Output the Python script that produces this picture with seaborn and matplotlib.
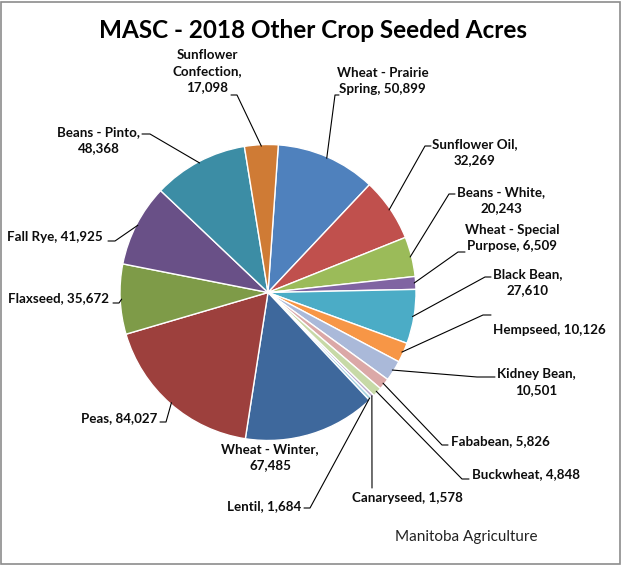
import matplotlib
matplotlib.use("Agg")
import matplotlib.pyplot as plt
import matplotlib.patches as mpatches
import numpy as np
import seaborn as sns

# ---- data ----
categories = ["Wheat - Prairie Spring", "Sunflower Oil", "Beans - White",
              "Wheat - Special Purpose", "Black Bean", "Hempseed", "Kidney Bean",
              "Fababean", "Buckwheat", "Canaryseed", "Lentil", "Wheat - Winter",
              "Peas", "Flaxseed", "Fall Rye", "Beans - Pinto", "Sunflower Confection"]
acres = [50899, 32269, 20243, 6509, 27610, 10126, 10501, 5826, 4848, 1578,
         1684, 67485, 84027, 35672, 41925, 48368, 17098]
title = "MASC - 2018 Other Crop Seeded Acres"
source = "Manitoba Agriculture"

# ---- style ----
colors = ["#4F81BD", "#C0504D", "#9BBB59", "#8064A2", "#4BACC6", "#F79646",
          "#AAB9D9", "#DBA8A7", "#C7D9A7", "#B9AACC", "#A6D2E0", "#3E689C",
          "#9D403D", "#7E9B48", "#695087", "#3C8DA5", "#CF7B35"]

# label layout in pixel coords: (words before line breaks, x, y, ha, leader path)
layout = [
    ([3], 337, 81, "left", [(335, 95), (339, 95)]),
    ([2], 432, 152, "left", [(425, 146), (431, 146)]),
    ([3], 457, 200, "left", [(449, 194), (455, 194)]),
    ([3], 465, 238, "left", [(458, 252), (465, 252)]),
    ([2], 493, 282, "left", [(485, 277), (491, 277)]),
    ([], 493, 330, "left", [(483, 315), (491, 315)]),
    ([2], 497, 382, "left", [(477, 377), (495, 377)]),
    ([], 451, 441, "left", [(442, 445), (448, 445)]),
    ([], 472, 474, "left", [(462, 479), (469, 479)]),
    ([], 407, 498, "center", [(372, 488)]),
    ([], 301, 506, "right", [(310, 508), (304, 508)]),
    ([3], 270, 457, "center", None),
    ([], 157, 418, "right", [(166, 422), (160, 422)]),
    ([], 109, 298, "right", [(119, 303), (113, 303)]),
    ([], 103, 237, "right", [(115, 241), (108, 241)]),
    ([3], 140, 140, "right", [(150, 134), (142, 134)]),
    ([1, 2], 207.5, 71, "center", [(237, 95), (231, 95)]),
]

W, H = 621, 565
CX, CY, R = 268, 292.5, 148

sns.set_theme(style="white")
plt.rcParams["font.family"] = ["Lato", "DejaVu Sans"]

fig = plt.figure(figsize=(W / 100, H / 100), dpi=100)
fig.patch.set_facecolor("white")
ax = fig.add_axes([(CX - R) / W, (H - CY - R) / H, 2 * R / W, 2 * R / H])

palette = sns.color_palette(colors)
wedges, _ = ax.pie(acres, colors=palette, startangle=86, counterclock=False,
                   radius=1, wedgeprops=dict(edgecolor="white", linewidth=1.0))
ax.set_xlim(-1, 1)
ax.set_ylim(-1, 1)
ax.set_axis_off()


def px(x, y):
    return (x - CX) / R, (CY - y) / R


for w, name, v, (brk, x, y, ha, path) in zip(wedges, categories, acres, layout):
    words = f"{name}, {v:,}".split(" ")
    lines, cur = [], []
    for i, wd in enumerate(words, start=1):
        cur.append(wd)
        if i in brk:
            lines.append(" ".join(cur))
            cur = []
    lines.append(" ".join(cur))
    text = "\n".join(lines)
    tx, ty = px(x, y)
    ax.text(tx, ty, text, ha=ha, va="center", multialignment="center",
            fontsize=9.6, fontweight="bold", color="#0d0d0d", linespacing=1.4,
            clip_on=False)
    if path:
        mid = np.deg2rad((w.theta1 + w.theta2) / 2)
        ax_, ay_ = np.cos(mid) * 0.99, np.sin(mid) * 0.99
        xs = [ax_] + [px(*p)[0] for p in path]
        ys = [ay_] + [px(*p)[1] for p in path]
        ax.plot(xs, ys, color="black", lw=0.8, clip_on=False)

fig.text(313 / W, 1 - 31 / H, title, ha="center", va="center",
         fontsize=17.5, fontweight="bold", color="black")
fig.text(466 / W, 1 - 537 / H, source, ha="center", va="center",
         fontsize=11, color="#222222")

fig.add_artist(mpatches.Rectangle((0.5 / W, 1.5 / H), 1 - 2 / W, 1 - 3.5 / H,
                                  transform=fig.transFigure, fill=False,
                                  edgecolor="#8C8C8C", lw=1.2))

fig.savefig("out.png", dpi=100, facecolor="white")
